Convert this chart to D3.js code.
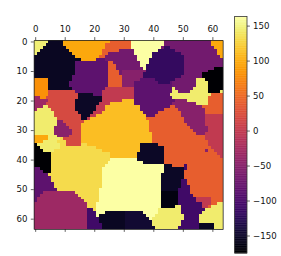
<!DOCTYPE html>
<html>
<head>
<meta charset="utf-8">
<script src="https://cdn.jsdelivr.net/npm/d3@7"></script>
<style>
    html, body { margin: 0; padding: 0; background: #fff; overflow: hidden; }
    text { font-family: "DejaVu Sans", sans-serif; }
</style>
</head>
<body>
<script>
// value of each grain
const grainValues = {
    a: 146, b: -155, c: 98, d: 80, e: -84, f: 41, g: 20, h: -32, i: 144, j: 132,
    k: 112, l: -152, m: -68, o: -50, p: 163, q: -118, r: -175, u: 0, v: -108,
    y: -145, z: -165
}

// one line per image row, "letter + last column" runs
const rows = [
    'a4 b9 c25 f32 p43 m59 c63',
    'a3 b9 c23 f32 p43 m59 c63',
    'a2 b10 c23 f32 p42 m43 q45 m60 c63',
    'a1 b11 c22 f28 m33 p41 q47 m61 c63',
    'a0 b12 c22 f24 m33 p39 q49 m61 c63',
    'b13 c21 f23 m34 p39 q50 m62 c63',
    'b15 c20 e23 m34 p38 q50 m63',
    'b13 e24 f26 m35 p38 q50 m63',
    'b13 e24 f27 m35 p37 q50 m63',
    'b13 e24 f27 m36 p37 q50 m60 r63',
    'b13 e24 f28 m29 o37 q50 m58 r63',
    'b13 e24 f28 m29 o36 q50 m56 r63',
    'b12 e24 f29 o36 q49 m56 r63',
    'd4 b12 e24 f29 o35 e40 q47 m54 i57 r63',
    'd4 b11 e24 f29 o33 e41 q45 e46 m54 i58 r63',
    'd4 b11 e24 f29 o33 e46 m54 i58 r63',
    'd4 b12 e23 u33 e46 i47 m53 i58 r63',
    'd4 g13 e22 u33 e46 i48 m52 i58 r62 i63',
    'd4 g14 l19 e22 u33 e45 i59 f63',
    'h1 d3 g14 l22 u33 e46 i58 f63',
    'h4 g13 l22 u29 k33 e47 o51 i58 f63',
    'h3 g13 l21 u25 k33 e46 o54 i58 f63',
    'h2 i4 g13 l20 u23 k35 e45 f47 o56 f63',
    'h0 i5 g13 l20 u23 k35 e43 f48 o57 f63',
    'i6 g14 l19 u22 k36 e41 f49 o57 f63',
    'i6 g15 l18 u20 k37 e40 f49 o57 u63',
    'i7 g15 l17 u18 k37 f50 o57 u63',
    'i7 o9 g16 k38 f50 o57 u63',
    'i7 o10 g15 k38 f51 o57 u63',
    'i6 o11 g15 k38 f52 o58 u63',
    'i6 o12 g15 k38 f53 o58 u63',
    'i6 o12 g15 k39 f54 o57 u63',
    'c4 i7 o11 g15 k39 f57 u63',
    'c4 i8 j9 g15 k39 f57 u63',
    'c2 i7 j10 g15 k39 f58 u63',
    'r0 i8 j10 g15 j17 k35 l41 f58 u63',
    'r1 i8 j20 k35 l43 f59 u63',
    'r2 i6 j22 k35 l43 f57 o58 f60 u63',
    'r5 j25 k34 l43 f61 u63',
    'r5 j25 k34 l43 f62 u63',
    'r5 j25 p34 l43 f63',
    'r5 j24 p36 l43 f63',
    'r5 j23 p43 l46 f50 v51 f63',
    'e1 r5 j22 p43 l50 v51 f63',
    'e2 r5 j22 p43 l50 f63',
    'e4 j22 p42 l50 f63',
    'e5 j22 p42 l50 f63',
    'e5 j22 p42 l49 v51 f63',
    'e6 j22 p42 l49 v51 f63',
    'e6 j22 p42 l49 v52 f63',
    'e7 j21 p42 l48 v52 f63',
    'e2 h13 j21 p42 z48 v52 f63',
    'e1 h14 j21 p42 z48 v53 f63',
    'e0 h15 j21 p42 z48 v54 u59 f63',
    'e0 h16 j21 p42 z48 v54 u59 f63',
    'h17 j20 p42 z48 v56 u59 f61 i63',
    'h17 j20 p42 z47 i49 v56 u58 f59 i63',
    'h17 v19 j20 p41 i49 v57 i63',
    'h17 v20 p23 b30 y36 p41 i49 v56 i63',
    'h17 v20 p21 b30 y37 p40 i50 v55 i63',
    'h17 v21 b30 y38 p39 i50 v55 i63',
    'h17 v21 b30 y39 i49 v55 i63',
    'h17 v22 b30 y39 i49 v55 b60 i63',
    'h17 v22 b30 y40 i48 v55 b60 i63'
]

const axisTicks = [0, 10, 20, 30, 40, 50, 60]
const barTicks = [-150, -100, -50, 0, 50, 100, 150]
const barDomain = [-175, 163]

const w = 281
const h = 256
const plotLeft = 33.7
const plotTop = 40
const plotSize = 189

const svg = d3.select('body')
    .append('svg')
    .attr('width', w)
    .attr('height', h)
    .style('display', 'block')

const x = d3.scaleLinear().domain([-0.5, 63.5]).range([plotLeft, plotLeft + plotSize])
const y = d3.scaleLinear().domain([-0.5, 63.5]).range([plotTop, plotTop + plotSize])
const color = d3.scaleSequential(d3.interpolateInferno).domain(barDomain)

// expand the run strings to one record per run
const runs = rows.flatMap((line, row) => {
    let start = 0
    return line.split(' ').map(tok => {
        const end = +tok.slice(1)
        const run = { row, start, end, value: grainValues[tok[0]] }
        start = end + 1
        return run
    })
})

svg.append('g')
    .selectAll('rect')
    .data(runs)
    .enter()
    .append('rect')
    .attr('x', d => x(d.start - 0.5))
    .attr('y', d => y(d.row - 0.5))
    .attr('width', d => x(d.end + 0.5) - x(d.start - 0.5))
    .attr('height', d => y(d.row + 0.5) - y(d.row - 0.5))
    .attr('fill', d => color(d.value))
    .attr('shape-rendering', 'crispEdges')

function styleAxis(g) {
    g.selectAll('path').attr('stroke', '#222').attr('stroke-width', 0.8)
    g.selectAll('line').attr('stroke', '#222').attr('stroke-width', 0.7)
    g.selectAll('text').attr('font-size', 8.6).attr('fill', '#111')
}

const ticked = (a, pad) => a.tickValues(axisTicks).tickSize(2.9).tickSizeOuter(0).tickPadding(pad)

svg.append('g')
    .attr('transform', `translate(0, ${plotTop})`)
    .call(ticked(d3.axisTop(x), 5))
    .call(styleAxis)

svg.append('g')
    .attr('transform', `translate(0, ${plotTop + plotSize})`)
    .call(ticked(d3.axisBottom(x), 2).tickFormat(''))
    .call(styleAxis)

svg.append('g')
    .attr('transform', `translate(${plotLeft}, 0)`)
    .call(ticked(d3.axisLeft(y), 3.3))
    .call(styleAxis)

svg.append('g')
    .attr('transform', `translate(${plotLeft + plotSize}, 0)`)
    .call(ticked(d3.axisRight(y), 2).tickValues([]).tickFormat(''))
    .call(styleAxis)

// colorbar
const barLeft = 234.6
const barWidth = 12.4
const barY = d3.scaleLinear().domain(barDomain).range([253, 16.5])

svg.append('g')
    .selectAll('rect')
    .data(d3.range(barDomain[0], barDomain[1], 1))
    .enter()
    .append('rect')
    .attr('x', barLeft)
    .attr('y', d => barY(d + 1))
    .attr('width', barWidth)
    .attr('height', d => barY(d) - barY(d + 1) + 0.4)
    .attr('fill', d => color(d + 0.5))

svg.append('rect')
    .attr('x', barLeft)
    .attr('y', barY(barDomain[1]))
    .attr('width', barWidth)
    .attr('height', barY(barDomain[0]) - barY(barDomain[1]))
    .attr('fill', 'none')
    .attr('stroke', '#333')
    .attr('stroke-width', 0.8)

svg.append('g')
    .attr('transform', `translate(${barLeft + barWidth}, 0)`)
    .call(d3.axisRight(barY).tickValues(barTicks).tickSize(2.9).tickPadding(3.2))
    .call(styleAxis)
    .call(g => g.select('.domain').remove())
</script>
</body>
</html>
